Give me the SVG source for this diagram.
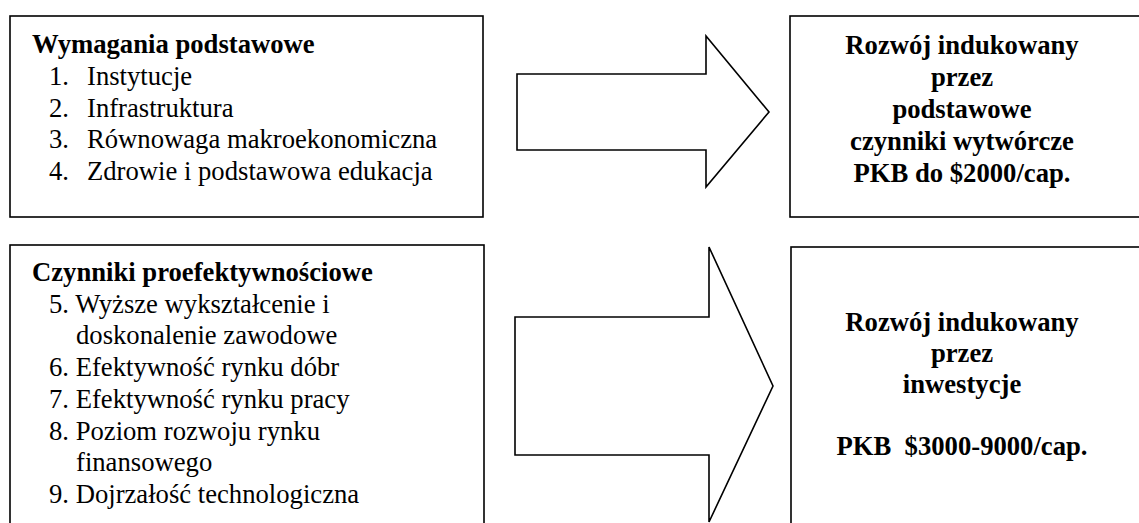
<svg xmlns="http://www.w3.org/2000/svg" width="1139" height="523" viewBox="0 0 1139 523">
<style>
.box{fill:#fff;stroke:#000;stroke-width:1.6}
.arrow{fill:#fff;stroke:#000;stroke-width:1.6;stroke-linejoin:miter}
text{font-family:"Liberation Serif","Times New Roman",serif;font-size:26.67px;fill:#000}
.b{font-weight:bold}
.c{text-anchor:middle;font-weight:bold}
</style>
<rect width="1139" height="523" fill="#fff"/>
<g id="node-wymagania">
<rect class="box" x="10" y="16" width="473" height="201"/>
<text class="b" x="32" y="53">Wymagania podstawowe</text>
<text x="49" y="85">1.</text><text x="87" y="85">Instytucje</text>
<text x="49" y="117">2.</text><text x="87" y="117">Infrastruktura</text>
<text x="49" y="148">3.</text><text x="87" y="148">Równowaga makroekonomiczna</text>
<text x="49" y="180">4.</text><text x="87" y="180">Zdrowie i podstawowa edukacja</text>
</g>
<g id="node-rozwoj1">
<rect class="box" x="790" y="16" width="360" height="201"/>
<text class="c" x="962" y="54">Rozwój indukowany</text>
<text class="c" x="962" y="86">przez</text>
<text class="c" x="962" y="118">podstawowe</text>
<text class="c" x="962" y="150">czynniki wytwórcze</text>
<text class="c" x="962" y="182">PKB do $2000/cap.</text>
</g>
<g id="node-czynniki">
<rect class="box" x="10" y="245" width="474" height="300"/>
<text class="b" x="32" y="281">Czynniki proefektywnościowe</text>
<text x="49" y="313">5. Wyższe wykształcenie i</text>
<text x="76" y="344">doskonalenie zawodowe</text>
<text x="49" y="376">6. Efektywność rynku dóbr</text>
<text x="49" y="408">7. Efektywność rynku pracy</text>
<text x="49" y="440">8. Poziom rozwoju rynku</text>
<text x="76" y="471">finansowego</text>
<text x="49" y="503">9. Dojrzałość technologiczna</text>
</g>
<g id="node-rozwoj2">
<rect class="box" x="791" y="247" width="360" height="300"/>
<text class="c" x="962" y="331">Rozwój indukowany</text>
<text class="c" x="962" y="362">przez</text>
<text class="c" x="962" y="393">inwestycje</text>
<text class="c" x="962" y="455" xml:space="preserve" style="white-space:pre">PKB  $3000-9000/cap.</text>
</g>
<g id="connectors">
<polygon class="arrow" points="517,74 706,74 706,36 769,112 706,187 706,150 517,150"/>
<polygon class="arrow" points="515,317 709,317 709,247 773,386 709,522 709,455 515,455"/>
</g>
</svg>
